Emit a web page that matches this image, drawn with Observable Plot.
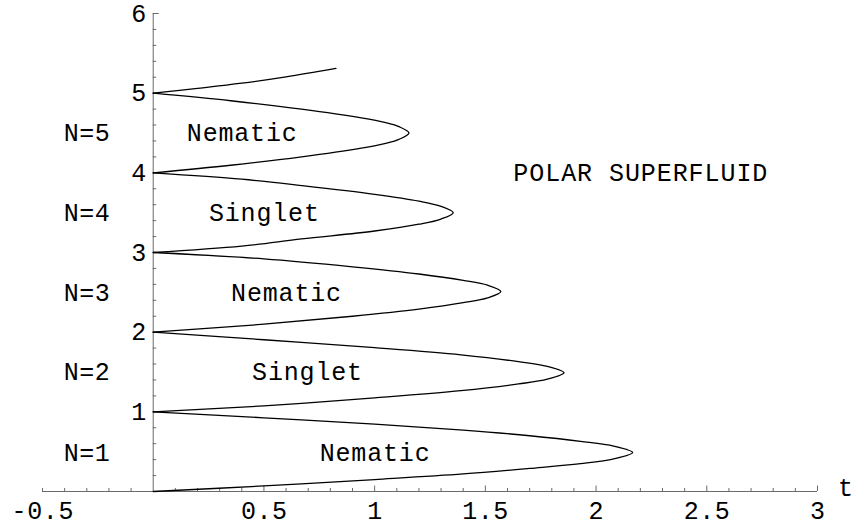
<!DOCTYPE html>
<html>
<head>
<meta charset="utf-8">
<script src="https://cdn.jsdelivr.net/npm/d3@7"></script>
<script src="https://cdn.jsdelivr.net/npm/@observablehq/plot@0.6"></script>
<style>
  html, body { margin: 0; padding: 0; background: #fff; }
  #chart svg { display: block; }
</style>
</head>
<body>
<div id="chart"></div>
<script>
// Mott-lobe boundaries in the (t, mu) plane, one array per filling N.
// Each runs from (0, N-1) along the lower branch to the tip and back
// along the upper branch to (0, N).
const lobeN1 = [[0, 0], [0.5, 0.07], [1.0, 0.15], [1.4, 0.22], [1.7, 0.29], [1.93, 0.35], [2.08, 0.41], [2.165, 0.49],
                [2.08, 0.57], [1.93, 0.63], [1.7, 0.70], [1.4, 0.77], [1.0, 0.845], [0.5, 0.925], [0, 1]];
const lobeN2 = [[0, 1], [0.5, 1.075], [1.0, 1.175], [1.39, 1.265], [1.65, 1.35], [1.78, 1.41], [1.855, 1.49],
                [1.78, 1.57], [1.65, 1.63], [1.39, 1.715], [1.0, 1.805], [0.5, 1.905], [0, 2]];
const lobeN3 = [[0, 2], [0.5, 2.10], [0.9, 2.20], [1.2, 2.29], [1.4, 2.37], [1.51, 2.43], [1.57, 2.51],
                [1.51, 2.59], [1.4, 2.65], [1.2, 2.73], [0.9, 2.82], [0.5, 2.92], [0, 3]];
const lobeN4 = [[0, 3], [0.4, 3.08], [0.67, 3.17], [1.0, 3.27], [1.2, 3.355], [1.3, 3.42], [1.355, 3.5],
                [1.3, 3.58], [1.2, 3.645], [1.0, 3.73], [0.67, 3.84], [0.4, 3.92], [0, 4]];
const lobeN5 = [[0, 4], [0.35, 4.095], [0.67, 4.20], [0.94, 4.31], [1.05, 4.37], [1.11, 4.42], [1.155, 4.5],
                [1.11, 4.58], [1.05, 4.63], [0.94, 4.69], [0.67, 4.80], [0.35, 4.905], [0, 5]];
// lower branch of the next lobe, computed only up to this point
const lobeN6 = [[0, 5], [0.2, 5.06], [0.4, 5.125], [0.6, 5.205], [0.825, 5.31]];

const lobes = [lobeN1, lobeN2, lobeN3, lobeN4, lobeN5, lobeN6];

// Region labels
const fillingLabels = ["N=1", "N=2", "N=3", "N=4", "N=5"];
const fillingMu = [0.48, 1.5, 2.49, 3.49, 4.5];
const fillingT = -0.3;
const phaseNames = ["Nematic", "Singlet", "Nematic", "Singlet", "Nematic"];
const phaseT = [1.0, 0.695, 0.6, 0.5, 0.4];
const phaseMu = [0.48, 1.5, 2.49, 3.49, 4.5];
const superfluidLabel = "POLAR SUPERFLUID";
const superfluidPos = [2.2, 4.0];
const xAxisLabel = "t";

// Axis ticks
const xTickValues = [0.5, 1, 1.5, 2, 2.5, 3];
const xTickLabels = ["0.5", "1", "1.5", "2", "2.5", "3"];
const xEndTick = [-0.5];
const xEndLabel = ["-0.5"];
const yTickValues = [1, 2, 3, 4, 5, 6];
const yTickLabels = ["1", "2", "3", "4", "5", "6"];

const xMinor = d3.range(-5, 31).map(i => i / 10)
  .filter(v => Math.abs(v * 2 - Math.round(v * 2)) > 1e-6);
const yMinor = d3.range(1, 30).map(i => i / 5)
  .filter(v => Math.abs(v - Math.round(v)) > 1e-6);

const rows = lobes.flatMap((pts, k) => pts.map(([t, mu], i) => ({lobe: k + 1, i, t, mu})));

const W = 859, H = 525;
const mL = 42, mR = 42, mT = 13, mB = 34;
const frameW = W - mL - mR, frameH = H - mT - mB;
const xDomain = [-0.5, 3], yDomain = [0, 6];
const yAxisOffset = frameW * (0 - xDomain[0]) / (xDomain[1] - xDomain[0]);

const axisColor = "#6a6a6a";
// typewriter lettering on a fixed character pitch
const font = "'Liberation Mono', 'DejaVu Sans Mono', monospace";
const fs = 25;
const pitch = 16;

const chart = Plot.plot({
  width: W,
  height: H,
  marginLeft: mL, marginRight: mR, marginTop: mT, marginBottom: mB,
  x: {domain: xDomain, axis: null},
  y: {domain: yDomain, axis: null},
  style: {background: "#fff", fontFamily: font},
  marks: [
    // axes crossing at the origin
    Plot.ruleY([0], {stroke: axisColor, strokeWidth: 1}),
    Plot.ruleX([0], {y1: 0, y2: 6, stroke: axisColor, strokeWidth: 1}),
    Plot.tickX(xTickValues, {x: d => d, insetTop: frameH - 5.5, stroke: axisColor}),
    Plot.tickX(xMinor.concat(xEndTick), {x: d => d, insetTop: frameH - 3, stroke: axisColor}),
    Plot.tickY(yTickValues, {y: d => d, insetLeft: yAxisOffset, insetRight: frameW - yAxisOffset - 6, stroke: axisColor}),
    Plot.tickY(yMinor, {y: d => d, insetLeft: yAxisOffset, insetRight: frameW - yAxisOffset - 3.5, stroke: axisColor}),
    Plot.text(xTickValues.concat(xEndTick), {
      x: d => d, y: 0, dy: 19,
      text: (d, i) => xTickLabels.concat(xEndLabel)[i],
      fontSize: fs, fontFamily: font, fill: "#000"
    }),
    Plot.text(yTickValues, {
      x: 0, y: d => d, dx: -7, textAnchor: "end",
      text: (d, i) => yTickLabels[i],
      fontSize: fs, fontFamily: font, fill: "#000"
    }),
    Plot.text([xAxisLabel], {
      x: xDomain[1], y: 0, dx: 28, dy: -4, text: d => d,
      fontSize: fs, fontFamily: font, fill: "#000"
    }),
    // phase boundaries
    Plot.line(rows, {
      x: "t", y: "mu", z: "lobe",
      curve: "catmull-rom",
      stroke: "#000", strokeWidth: 1.3
    }),
    // region labels
    Plot.text(fillingLabels, {
      x: fillingT, y: (d, i) => fillingMu[i], text: d => d,
      fontSize: fs, fontFamily: font, fill: "#000"
    }),
    Plot.text(phaseNames, {
      x: (d, i) => phaseT[i], y: (d, i) => phaseMu[i], text: d => d,
      fontSize: fs, fontFamily: font, fill: "#000"
    }),
    Plot.text([superfluidLabel], {
      x: superfluidPos[0], y: superfluidPos[1], text: d => d,
      fontSize: fs, fontFamily: font, fill: "#000"
    })
  ]
});

// keep every label on the same character pitch
chart.querySelectorAll("text").forEach(el => {
  el.style.fontFamily = font;
  const n = el.textContent.length;
  if (n > 1) {
    el.setAttribute("textLength", n * pitch - 2);
    el.setAttribute("lengthAdjust", "spacing");
  }
});

document.getElementById("chart").append(chart);
</script>
</body>
</html>
